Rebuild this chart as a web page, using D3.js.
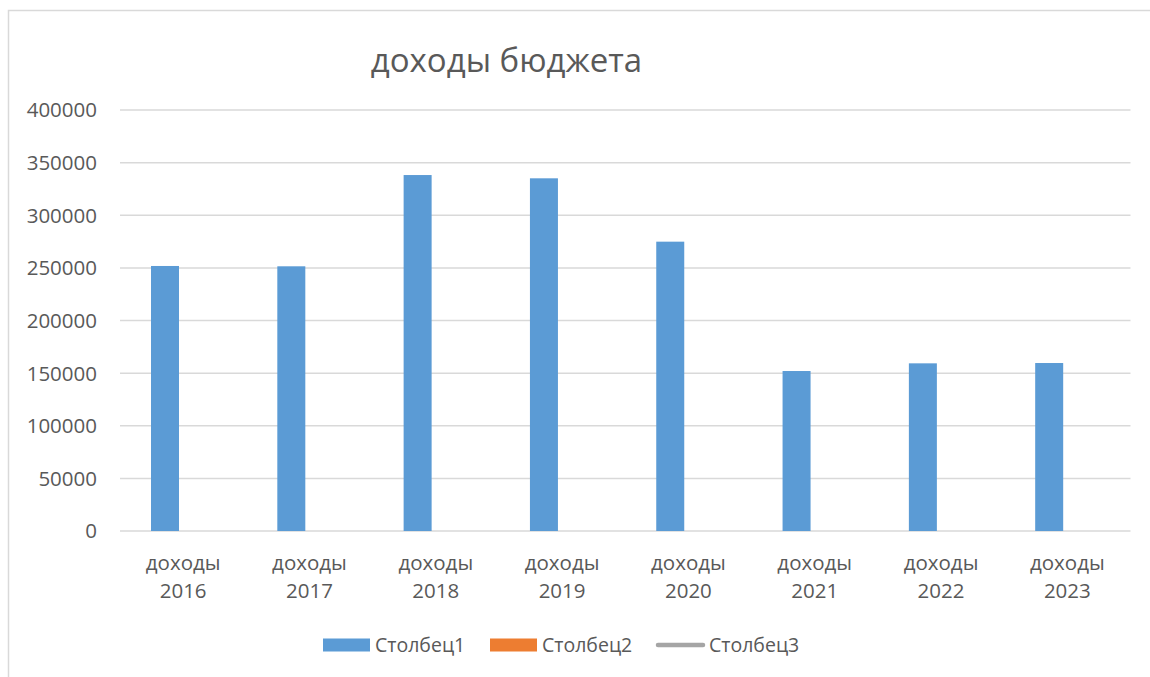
<!DOCTYPE html>
<html>
<head>
<meta charset="utf-8">
<script src="https://cdn.jsdelivr.net/npm/d3@7"></script>
<style>
  body { margin: 0; background: #fff; }
  text { font-family: "Open Sans", "Noto Sans", sans-serif; fill: #595959; }
</style>
</head>
<body>
<div id="my_dataviz"></div>
<script>
// Данные графика
var categories = ["доходы 2016", "доходы 2017", "доходы 2018", "доходы 2019",
                  "доходы 2020", "доходы 2021", "доходы 2022", "доходы 2023"]
var barSeries = ["Столбец1", "Столбец2"]
var lineSeries = ["Столбец3"]
var stolbec1 = [251800, 251500, 338200, 335100, 274900, 152000, 159300, 159600]
var stolbec2 = []   // пустой ряд
var stolbec3 = []   // пустой ряд (линия)
var yTicks = [0, 50000, 100000, 150000, 200000, 250000, 300000, 350000, 400000]
var title = "доходы бюджета"

var width = 1150
var height = 677
var plotLeft = 120, plotRight = 1130.5, plotTop = 110, plotBottom = 531

var svg = d3.select("#my_dataviz")
  .append("svg")
    .attr("width", width)
    .attr("height", height)

// рамка области диаграммы (уходит за правый и нижний край)
svg.append("rect")
  .attr("x", 8.5).attr("y", 10.5)
  .attr("width", 1200).attr("height", 700)
  .attr("fill", "none")
  .attr("stroke", "#d9d9d9")
  .attr("stroke-width", 1.5)

// шкалы
var x0 = d3.scaleBand()
  .domain(categories)
  .range([plotLeft, plotRight])
var x1 = d3.scaleBand()
  .domain(barSeries)
  .range([31, 87])
var y = d3.scaleLinear()
  .domain([0, 400000])
  .range([plotBottom, plotTop])

// линии сетки
svg.append("g")
  .selectAll("line")
  .data(yTicks)
  .enter()
  .append("line")
    .attr("x1", plotLeft).attr("x2", plotRight)
    .attr("y1", function(d) { return y(d) }).attr("y2", function(d) { return y(d) })
    .attr("stroke", "#d9d9d9")
    .attr("stroke-width", 1.5)

// подписи оси Y
svg.append("g")
  .selectAll("text")
  .data(yTicks)
  .enter()
  .append("text")
    .attr("x", 97)
    .attr("y", function(d) { return y(d) })
    .attr("dy", "0.36em")
    .attr("text-anchor", "end")
    .style("font-size", "20.5px")
    .text(function(d) { return d })

// столбцы
var rows = barSeries.map(function(s, i) { return { key: s, values: [stolbec1, stolbec2][i] } })
var colors = { "Столбец1": "#5b9bd5", "Столбец2": "#ed7d31", "Столбец3": "#a5a5a5" }

rows.forEach(function(r) {
  svg.append("g")
    .selectAll("rect")
    .data(r.values)
    .enter()
    .append("rect")
      .attr("x", function(d, i) { return x0(categories[i]) + x1(r.key) })
      .attr("width", x1.bandwidth())
      .attr("y", function(d) { return y(d) })
      .attr("height", function(d) { return y(0) - y(d) })
      .attr("fill", colors[r.key])
})

// подписи категорий в две строки
var cat = svg.append("g")
  .selectAll("text")
  .data(categories)
  .enter()
  .append("text")
    .attr("text-anchor", "middle")
    .style("font-size", "20.5px")
cat.each(function(d) {
  var parts = d.split(" ")
  var t = d3.select(this)
  var cx = x0(d) + x0.bandwidth() / 2
  parts.forEach(function(p, j) {
    t.append("tspan").attr("x", cx).attr("y", 570 + j * 28).text(p)
  })
})

// заголовок
svg.append("text")
  .attr("x", 506.5)
  .attr("y", 72)
  .attr("text-anchor", "middle")
  .style("font-size", "33px")
  .text(title)

// легенда
var legendItems = barSeries.concat(lineSeries)
var legendX = [323, 490, 656]
var legend = svg.selectAll(".legend")
  .data(legendItems)
  .enter()
  .append("g")
    .attr("class", "legend")
    .attr("transform", function(d, i) { return "translate(" + legendX[i] + ",645)" })

legend.filter(function(d) { return barSeries.indexOf(d) >= 0 })
  .append("rect")
    .attr("x", 0).attr("y", -6.5)
    .attr("width", 47).attr("height", 13)
    .attr("fill", function(d) { return colors[d] })

legend.filter(function(d) { return lineSeries.indexOf(d) >= 0 })
  .append("line")
    .attr("x1", 2).attr("x2", 47)
    .attr("y1", 0).attr("y2", 0)
    .attr("stroke", function(d) { return colors[d] })
    .attr("stroke-width", 4.5)
    .attr("stroke-linecap", "round")

legend.append("text")
  .attr("x", function(d) { return barSeries.indexOf(d) >= 0 ? 52 : 53 })
  .attr("y", 0)
  .attr("dy", "0.36em")
  .style("font-size", "19.5px")
  .text(function(d) { return d })
</script>
</body>
</html>
